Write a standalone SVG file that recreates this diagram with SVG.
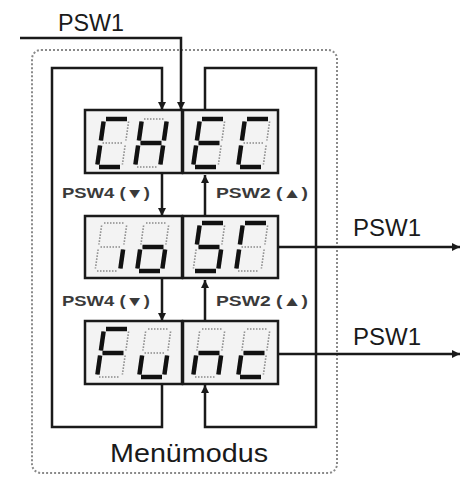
<svg xmlns="http://www.w3.org/2000/svg" xmlns:xlink="http://www.w3.org/1999/xlink" width="463" height="483" viewBox="0 0 463 483">
<style>
  .ln{fill:none;stroke:#1a1a1a;stroke-width:2.5;stroke-linejoin:miter}
  .box{fill:#f3f3f3;stroke:#1a1a1a;stroke-width:2.5}
  .off{fill:none;stroke:#8a8a8a;stroke-width:1.6;stroke-dasharray:1.5 1.5}
  .on{fill:none;stroke:#111;stroke-width:4.5;stroke-linecap:butt}
  .big{font-family:"Liberation Sans",Arial,sans-serif;font-size:24px;fill:#1a1a1a}
  .sm{font-family:"Liberation Sans","DejaVu Sans",Arial,sans-serif;font-size:14px;font-weight:bold;fill:#3a3a3a}
  .frame{fill:none;stroke:#8a8a8a;stroke-width:2;stroke-dasharray:2 2}
</style>
<defs>
  <marker id="ah" viewBox="0 0 10 10" refX="10" refY="5" markerWidth="8" markerHeight="8" markerUnits="userSpaceOnUse" orient="auto">
    <path d="M0,0 L10,5 L0,10 z" fill="#1a1a1a"/>
  </marker>
  <path id="sa" d="M9,-48 L30,-48"/>
  <path id="sb" d="M31.6,-45.5 L28.9,-26.5"/>
  <path id="sc" d="M28.1,-21.5 L25.4,-2.5"/>
  <path id="sd" d="M2,0 L23,0"/>
  <path id="se" d="M3.1,-21.5 L0.4,-2.5"/>
  <path id="sf" d="M6.6,-45.5 L3.9,-26.5"/>
  <path id="sg" d="M5.5,-24 L26.5,-24"/>
  <g id="d8">
    <use href="#sa"/><use href="#sb"/><use href="#sc"/><use href="#sd"/>
    <use href="#se"/><use href="#sf"/><use href="#sg"/>
  </g>
</defs>
<rect width="463" height="483" fill="#ffffff"/>
<rect class="frame" x="32" y="50" width="305" height="423" rx="9"/>

<g id="connectors">
  <path class="ln" d="M20,38 H181 V110" marker-end="url(#ah)"/>
  <path class="ln" d="M162,384 V427 H52 V68 H162 V110" marker-end="url(#ah)"/>
  <path class="ln" d="M205,110 V68 H316 V427 H205 V385" marker-end="url(#ah)"/>
  <path class="ln" d="M162,173 V216" marker-end="url(#ah)"/>
  <path class="ln" d="M205,216 V175" marker-end="url(#ah)"/>
  <path class="ln" d="M162,278 V321" marker-end="url(#ah)"/>
  <path class="ln" d="M205,321 V280" marker-end="url(#ah)"/>
  <path class="ln" d="M278,247 H460" marker-end="url(#ah)"/>
  <path class="ln" d="M278,354 H460" marker-end="url(#ah)"/>
</g>

<g id="labels">
  <text class="big" x="58" y="31" textLength="66" lengthAdjust="spacingAndGlyphs">PSW1</text>
  <text class="big" x="353" y="236" textLength="68" lengthAdjust="spacingAndGlyphs">PSW1</text>
  <text class="big" x="353" y="345" textLength="68" lengthAdjust="spacingAndGlyphs">PSW1</text>
  <text class="sm" x="62" y="198" textLength="88" lengthAdjust="spacingAndGlyphs">PSW4 (▼)</text>
  <text class="sm" x="216" y="198" textLength="92" lengthAdjust="spacingAndGlyphs">PSW2 (▲)</text>
  <text class="sm" x="62" y="306" textLength="88" lengthAdjust="spacingAndGlyphs">PSW4 (▼)</text>
  <text class="sm" x="216" y="306" textLength="92" lengthAdjust="spacingAndGlyphs">PSW2 (▲)</text>
</g>

<g id="node-chec">
  <rect class="box" x="85" y="110" width="97" height="63"/>
  <rect class="box" x="183" y="110" width="95" height="63"/>
  <use href="#d8" class="off" x="97" y="167"/><use href="#d8" class="off" x="135" y="167"/>
  <use href="#d8" class="off" x="193" y="167"/><use href="#d8" class="off" x="238" y="167"/>
  <g class="on">
    <use href="#sa" x="97" y="167"/><use href="#sd" x="97" y="167"/><use href="#se" x="97" y="167"/><use href="#sf" x="97" y="167"/>
    <use href="#sb" x="135" y="167"/><use href="#sc" x="135" y="167"/><use href="#se" x="135" y="167"/><use href="#sf" x="135" y="167"/><use href="#sg" x="135" y="167"/>
    <use href="#sa" x="193" y="167"/><use href="#sd" x="193" y="167"/><use href="#se" x="193" y="167"/><use href="#sf" x="193" y="167"/><use href="#sg" x="193" y="167"/>
    <use href="#sa" x="238" y="167"/><use href="#sd" x="238" y="167"/><use href="#se" x="238" y="167"/><use href="#sf" x="238" y="167"/>
  </g>
</g>

<g id="node-iosr">
  <rect class="box" x="85" y="216" width="97" height="62"/>
  <rect class="box" x="183" y="216" width="95" height="62"/>
  <use href="#d8" class="off" x="95" y="271"/><use href="#d8" class="off" x="137" y="271"/>
  <use href="#d8" class="off" x="193" y="271"/><use href="#d8" class="off" x="236" y="271"/>
  <g class="on">
    <use href="#sc" x="95" y="271"/>
    <use href="#sc" x="137" y="271"/><use href="#sd" x="137" y="271"/><use href="#se" x="137" y="271"/><use href="#sg" x="137" y="271"/>
    <use href="#sa" x="193" y="271"/><use href="#sf" x="193" y="271"/><use href="#sg" x="193" y="271"/><use href="#sc" x="193" y="271"/><use href="#sd" x="193" y="271"/>
    <use href="#sa" x="236" y="271"/><use href="#sf" x="236" y="271"/><use href="#se" x="236" y="271"/>
  </g>
</g>

<g id="node-func">
  <rect class="box" x="85" y="321" width="97" height="63"/>
  <rect class="box" x="183" y="321" width="95" height="63"/>
  <use href="#d8" class="off" x="97" y="377"/><use href="#d8" class="off" x="139" y="377"/>
  <use href="#d8" class="off" x="193" y="377"/><use href="#d8" class="off" x="238" y="377"/>
  <g class="on">
    <use href="#sa" x="97" y="377"/><use href="#sf" x="97" y="377"/><use href="#se" x="97" y="377"/><use href="#sg" x="97" y="377"/>
    <use href="#sc" x="139" y="377"/><use href="#sd" x="139" y="377"/><use href="#se" x="139" y="377"/>
    <use href="#se" x="193" y="377"/><use href="#sg" x="193" y="377"/><use href="#sc" x="193" y="377"/>
    <use href="#sd" x="238" y="377"/><use href="#se" x="238" y="377"/><use href="#sg" x="238" y="377"/>
  </g>
</g>

<g id="node-menumodus">
  <text class="big" x="110" y="462" style="font-size:26px" textLength="158" lengthAdjust="spacingAndGlyphs">Menümodus</text>
</g>
</svg>
